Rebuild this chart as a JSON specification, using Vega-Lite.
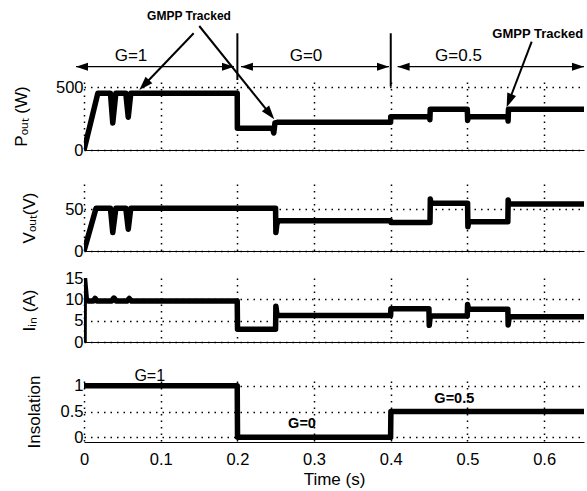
{
  "$schema": "https://vega.github.io/schema/vega-lite/v6.json",
  "padding": {"left": 12, "top": 9, "right": 2, "bottom": 2},
  "spacing": 10,
  "config": {
    "view": {"stroke": null},
    "font": "Liberation Sans",
    "axis": {"labelFont": "Liberation Sans", "titleFont": "Liberation Sans", "labelFontSize": 16.5, "titleFontSize": 17, "titleFontWeight": "normal", "labelColor": "black", "titleColor": "black", "gridColor": "black", "gridDash": [1.5, 5], "gridWidth": 1.5, "gridOpacity": 1, "ticks": false, "domainColor": "black", "domainWidth": 1, "labelPadding": 1, "format": "~r", "labelOverlap": false},
    "axisY": {"domain": false},
    "axisX": {"labelFlush": false},
    "text": {"font": "Liberation Sans", "color": "black"}
  },
  "vconcat": [
    {
      "width": 500, "height": 68,
      "layer": [
        {
          "data": {"values": [
            {"t":0,"v":0},{"t":0.018,"v":450},{"t":0.0345,"v":450},{"t":0.0375,"v":215},{"t":0.0415,"v":450},{"t":0.0545,"v":450},{"t":0.0577,"v":260},{"t":0.061,"v":450},{"t":0.1998,"v":450},{"t":0.2,"v":172},{"t":0.246,"v":172},{"t":0.2475,"v":135},{"t":0.249,"v":215},{"t":0.252,"v":220},{"t":0.3998,"v":220},{"t":0.4,"v":264},{"t":0.4505,"v":264},{"t":0.451,"v":240},{"t":0.4515,"v":323},{"t":0.4998,"v":323},{"t":0.5003,"v":235},{"t":0.501,"v":264},{"t":0.5525,"v":264},{"t":0.553,"v":230},{"t":0.5535,"v":323},{"t":0.652,"v":323}
          ]},
          "mark": {"type": "line", "color": "black", "strokeWidth": 5.5, "strokeJoin": "round", "clip": true},
          "encoding": {
            "x": {"field": "t", "type": "quantitative", "scale": {"domain": [0, 0.652], "nice": false, "zero": false}, "axis": {"title": null, "labels": false, "values": [0,0.1,0.2,0.3,0.4,0.5,0.6], "minExtent": 24, "maxExtent": 24}},
            "y": {"field": "v", "type": "quantitative", "scale": {"domain": [0, 540], "nice": false}, "axis": {"title": "Pₒᵤₜ (W)", "values": [0, 500], "titlePadding": 25, "labelOverlap": false}}
          }
        },
        {
          "data": {"values": [
            {"t":0.0613,"v":744,"label":"G=1"},{"t":0.2895,"v":744,"label":"G=0"},{"t":0.4883,"v":744,"label":"G=0.5"}
          ]},
          "mark": {"type": "text", "fontSize": 17, "align": "center", "baseline": "middle"},
          "encoding": {"x": {"field": "t", "type": "quantitative"}, "y": {"field": "v", "type": "quantitative"}, "text": {"field": "label"}}
        },
        {
          "data": {"values": [{"t":0.1369,"v":1068,"label":"GMPP Tracked"}]},
          "mark": {"type": "text", "fontSize": 12, "fontWeight": "bold", "align": "center", "baseline": "middle"},
          "encoding": {"x": {"field": "t", "type": "quantitative"}, "y": {"field": "v", "type": "quantitative"}, "text": {"field": "label"}}
        },
        {
          "data": {"values": [{"t":0.5916,"v":919,"label":"GMPP Tracked"}]},
          "mark": {"type": "text", "fontSize": 13, "fontWeight": "bold", "align": "center", "baseline": "middle"},
          "encoding": {"x": {"field": "t", "type": "quantitative"}, "y": {"field": "v", "type": "quantitative"}, "text": {"field": "label"}}
        },
        {
          "data": {"values": [
            {"t":-0.0104,"t2":0.1956,"v":661.5},{"t":0.2047,"t2":0.3977,"v":661.5},{"t":0.409,"t2":0.652,"v":661.5}
          ]},
          "mark": {"type": "rule", "color": "black", "strokeWidth": 1.2},
          "encoding": {"x": {"field": "t", "type": "quantitative"}, "x2": {"field": "t2"}, "y": {"field": "v", "type": "quantitative"}}
        },
        {
          "data": {"values": [{"t":0.2,"v":927,"v2":556},{"t":0.4,"v":927,"v2":503}]},
          "mark": {"type": "rule", "color": "black", "strokeWidth": 2},
          "encoding": {"x": {"field": "t", "type": "quantitative"}, "y": {"field": "v", "type": "quantitative"}, "y2": {"field": "v2"}}
        },
        {
          "data": {"values": [
            {"t":0.143,"v":926.7,"t2":0.0784,"v2":516.6},{"t":0.1503,"v":984.7,"t2":0.2424,"v2":287.1},{"t":0.5838,"v":860,"t2":0.5544,"v2":391}
          ]},
          "mark": {"type": "rule", "color": "black", "strokeWidth": 2},
          "encoding": {"x": {"field": "t", "type": "quantitative"}, "x2": {"field": "t2"}, "y": {"field": "v", "type": "quantitative"}, "y2": {"field": "v2"}}
        },
        {
          "data": {"values": [{"t":-0.0026,"v":661.5},{"t":0.2125,"v":661.5},{"t":0.4168,"v":661.5}]},
          "mark": {"type": "point", "shape": "M0,-1L0.67,1L-0.67,1Z", "size": 144, "filled": true, "color": "black", "opacity": 1, "strokeWidth": 0, "angle": 270},
          "encoding": {"x": {"field": "t", "type": "quantitative"}, "y": {"field": "v", "type": "quantitative"}}
        },
        {
          "data": {"values": [{"t":0.1878,"v":661.5},{"t":0.3899,"v":661.5},{"t":0.6442,"v":661.5}]},
          "mark": {"type": "point", "shape": "M0,-1L0.67,1L-0.67,1Z", "size": 144, "filled": true, "color": "black", "opacity": 1, "strokeWidth": 0, "angle": 90},
          "encoding": {"x": {"field": "t", "type": "quantitative"}, "y": {"field": "v", "type": "quantitative"}}
        },
        {
          "data": {"values": [{"t":0.0784,"v":516.6}]},
          "mark": {"type": "point", "shape": "M0,-1L0.67,1L-0.67,1Z", "size": 196, "filled": true, "color": "black", "opacity": 1, "strokeWidth": 0, "angle": 223.8},
          "encoding": {"x": {"field": "t", "type": "quantitative"}, "y": {"field": "v", "type": "quantitative"}}
        },
        {
          "data": {"values": [{"t":0.2424,"v":287.1}]},
          "mark": {"type": "point", "shape": "M0,-1L0.67,1L-0.67,1Z", "size": 196, "filled": true, "color": "black", "opacity": 1, "strokeWidth": 0, "angle": 141.2},
          "encoding": {"x": {"field": "t", "type": "quantitative"}, "y": {"field": "v", "type": "quantitative"}}
        },
        {
          "data": {"values": [{"t":0.5544,"v":391}]},
          "mark": {"type": "point", "shape": "M0,-1L0.67,1L-0.67,1Z", "size": 196, "filled": true, "color": "black", "opacity": 1, "strokeWidth": 0, "angle": 200.9},
          "encoding": {"x": {"field": "t", "type": "quantitative"}, "y": {"field": "v", "type": "quantitative"}}
        }
      ]
    },
    {
      "width": 500, "height": 67,
      "data": {"values": [
        {"t":0,"v":0},{"t":0.0157,"v":51},{"t":0.0345,"v":51},{"t":0.0375,"v":22},{"t":0.0415,"v":51},{"t":0.0545,"v":51},{"t":0.0577,"v":26},{"t":0.061,"v":51},{"t":0.2498,"v":51},{"t":0.2502,"v":22},{"t":0.2515,"v":32},{"t":0.2535,"v":36},{"t":0.3998,"v":36},{"t":0.4002,"v":34},{"t":0.4512,"v":34},{"t":0.4516,"v":62},{"t":0.4525,"v":57},{"t":0.5002,"v":57},{"t":0.5006,"v":29},{"t":0.5016,"v":35},{"t":0.5527,"v":35},{"t":0.5531,"v":61},{"t":0.554,"v":56},{"t":0.652,"v":56}
      ]},
      "mark": {"type": "line", "color": "black", "strokeWidth": 5.5, "strokeJoin": "round", "clip": true},
      "encoding": {
        "x": {"field": "t", "type": "quantitative", "scale": {"domain": [0, 0.652], "nice": false, "zero": false}, "axis": {"title": null, "labels": false, "values": [0,0.1,0.2,0.3,0.4,0.5,0.6], "minExtent": 9, "maxExtent": 9}},
        "y": {"field": "v", "type": "quantitative", "scale": {"domain": [0, 80], "nice": false}, "axis": {"title": "Vₒᵤₜ(V)", "values": [0, 50], "titlePadding": 25.7, "labelOverlap": false}}
      }
    },
    {
      "width": 500, "height": 64,
      "data": {"values": [
        {"t":0,"v":0},{"t":0.0003,"v":15.5},{"t":0.003,"v":10},{"t":0.006,"v":9.6},{"t":0.012,"v":9.6},{"t":0.0145,"v":10.2},{"t":0.017,"v":9.6},{"t":0.036,"v":9.6},{"t":0.039,"v":10.3},{"t":0.042,"v":9.6},{"t":0.056,"v":9.6},{"t":0.059,"v":10.2},{"t":0.062,"v":9.6},{"t":0.1998,"v":9.6},{"t":0.2002,"v":3},{"t":0.2498,"v":3},{"t":0.2502,"v":8.4},{"t":0.2515,"v":6.6},{"t":0.253,"v":6.2},{"t":0.3998,"v":6.2},{"t":0.4002,"v":7.8},{"t":0.4498,"v":7.8},{"t":0.4502,"v":3.9},{"t":0.4515,"v":6.1},{"t":0.4998,"v":6.1},{"t":0.5002,"v":8.8},{"t":0.5015,"v":7.7},{"t":0.5527,"v":7.7},{"t":0.5531,"v":4},{"t":0.5545,"v":5.9},{"t":0.652,"v":5.9}
      ]},
      "mark": {"type": "line", "color": "black", "strokeWidth": 5.5, "strokeJoin": "round", "clip": true},
      "encoding": {
        "x": {"field": "t", "type": "quantitative", "scale": {"domain": [0, 0.652], "nice": false, "zero": false}, "axis": {"title": null, "labels": false, "values": [0,0.1,0.2,0.3,0.4,0.5,0.6], "minExtent": 16, "maxExtent": 16}},
        "y": {"field": "v", "type": "quantitative", "scale": {"domain": [0, 15], "nice": false}, "axis": {"title": "Iᵢₙ (A)", "values": [0, 5, 10, 15], "titlePadding": 25.7, "labelOverlap": false, "gridOpacity": {"condition": {"test": "datum.value == 15", "value": 0}, "value": 1}}}
      }
    },
    {
      "width": 500, "height": 61,
      "layer": [
        {
          "data": {"values": [
            {"t":0,"v":1},{"t":0.1998,"v":1},{"t":0.2002,"v":0},{"t":0.3998,"v":0},{"t":0.4002,"v":0.5},{"t":0.652,"v":0.5}
          ]},
          "mark": {"type": "line", "color": "black", "strokeWidth": 5.5, "strokeJoin": "round", "clip": true},
          "encoding": {
            "x": {"field": "t", "type": "quantitative", "scale": {"domain": [0, 0.652], "nice": false, "zero": false}, "axis": {"title": "Time (s)", "values": [0,0.1,0.2,0.3,0.4,0.5,0.6], "labelPadding": 9, "labelDx": 4.5, "titlePadding": 4, "labelOverlap": false}},
            "y": {"field": "v", "type": "quantitative", "scale": {"domain": [-0.09, 1.09], "nice": false, "zero": false}, "axis": {"title": "Insolation", "values": [0, 0.5, 1], "titlePadding": 16.7, "labelOverlap": false, "tickCount": 3}}
          }
        },
        {
          "data": {"values": [{"t":0.0857,"v":1.178,"label":"G=1"}]},
          "mark": {"type": "text", "fontSize": 16, "align": "center", "baseline": "middle"},
          "encoding": {"x": {"field": "t", "type": "quantitative"}, "y": {"field": "v", "type": "quantitative"}, "text": {"field": "label"}}
        },
        {
          "data": {"values": [{"t":0.2843,"v":0.264,"label":"G=0"},{"t":0.4829,"v":0.751,"label":"G=0.5"}]},
          "mark": {"type": "text", "fontSize": 14.5, "fontWeight": "bold", "align": "center", "baseline": "middle"},
          "encoding": {"x": {"field": "t", "type": "quantitative"}, "y": {"field": "v", "type": "quantitative"}, "text": {"field": "label"}}
        }
      ]
    }
  ]
}
